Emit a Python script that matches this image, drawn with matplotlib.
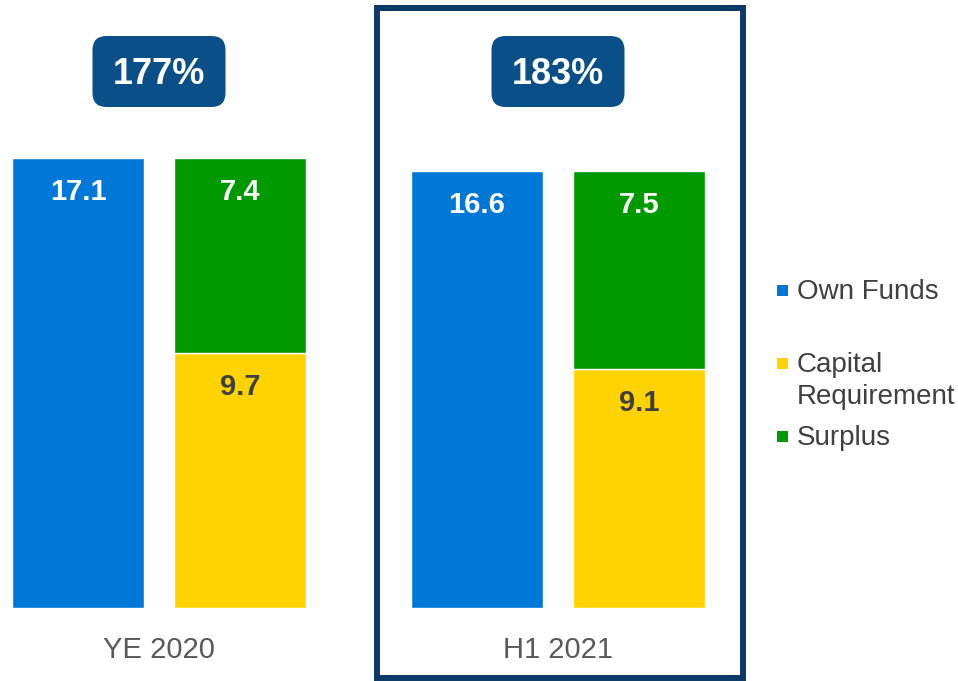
import matplotlib
matplotlib.use("Agg")
import matplotlib.pyplot as plt
from matplotlib.patches import FancyBboxPatch, Rectangle

plt.rcParams['font.family'] = ['Liberation Sans', 'DejaVu Sans']

periods = ["YE 2020", "H1 2021"]
own_funds = [17.1, 16.6]
capital_req = [9.7, 9.1]
surplus = [7.4, 7.5]
ratios = ["177%", "183%"]
legend_labels = ["Own Funds", "Capital\nRequirement", "Surplus"]

c_blue = "#0078d7"
c_yellow = "#ffd300"
c_green = "#009900"
c_badge = "#0a4f87"
c_frame = "#0b3a66"

W, H = 958, 681
fig = plt.figure(figsize=(W / 100, H / 100), dpi=100)

# axes: y=0 at pixel 608, 26.3 px per unit; x: group 0 at px 159, 399 px per group
ax = fig.add_axes([0, 1 - 608 / H, 1, 20 * 26.3 / H])
ax.set_xlim(-159 / 399, (W - 159) / 399)
ax.set_ylim(0, 20)
ax.axis('off')

x = range(len(periods))
off = 81 / 399
bw = 132 / 399
xl = [i - off for i in x]
xr = [i + off for i in x]

ax.bar(xl, own_funds, width=bw, color=c_blue, edgecolor='white', linewidth=1)
ax.bar(xr, capital_req, width=bw, color=c_yellow, edgecolor='white', linewidth=1)
ax.bar(xr, surplus, width=bw, bottom=capital_req, color=c_green, edgecolor='white', linewidth=1)

dy = -34 * 0.72
for i in x:
    ax.annotate(f"{own_funds[i]}", xy=(xl[i], own_funds[i]), xytext=(0, dy),
                textcoords='offset points', ha='center', va='center',
                fontsize=21, fontweight='bold', color='white')
    ax.annotate(f"{surplus[i]}", xy=(xr[i], capital_req[i] + surplus[i]), xytext=(0, dy),
                textcoords='offset points', ha='center', va='center',
                fontsize=21, fontweight='bold', color='white')
    ax.annotate(f"{capital_req[i]}", xy=(xr[i], capital_req[i]), xytext=(0, dy),
                textcoords='offset points', ha='center', va='center',
                fontsize=21, fontweight='bold', color='#404040')
    ax.annotate(periods[i], xy=(i, 0), xytext=(0, -42 * 0.72),
                textcoords='offset points', ha='center', va='center',
                fontsize=21, color='#595959')

# ratio badges
for i in x:
    cx = ax.transData.transform((i, 0))[0] / 100
    badge = FancyBboxPatch((cx - 0.665, (H - 107) / 100), 1.33, 0.71,
                           boxstyle="round,pad=0,rounding_size=0.14",
                           transform=fig.dpi_scale_trans, facecolor=c_badge,
                           edgecolor='none')
    fig.patches.append(badge)
    fig.text(cx, (H - 74.5) / 100, ratios[i], transform=fig.dpi_scale_trans,
             ha='center', va='center', fontsize=26, fontweight='bold', color='white')

# frame around latest period
frame = Rectangle((377 / W, 1 - 678 / H), (742.5 - 377) / W, (678 - 8) / H,
                  transform=fig.transFigure, fill=False, edgecolor=c_frame, linewidth=4.3)
fig.patches.append(frame)

# legend
leg_y = [290, 363, 436]
for lab, col, yy in zip(legend_labels, [c_blue, c_yellow, c_green], leg_y):
    fig.patches.append(Rectangle((777 / W, 1 - (yy + 6) / H), 11 / W, 11 / H,
                                 transform=fig.transFigure, facecolor=col, edgecolor='none'))
    fig.text(797 / W, 1 - (yy - 11) / H, lab, ha='left', va='top', fontsize=20,
             color='#404040', linespacing=1.3)

fig.savefig("out.png", dpi=100)
